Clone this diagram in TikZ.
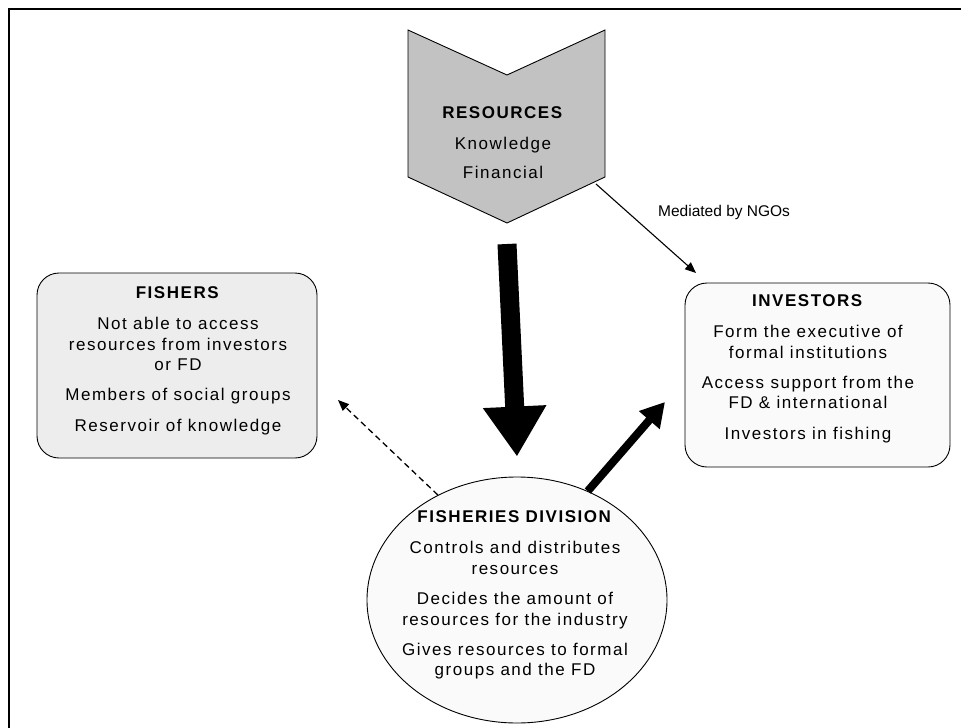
\documentclass[tikz,border=0pt]{standalone}
\usepackage{fontspec}
\setmainfont{Liberation Sans}[LetterSpace=9]
\newfontfamily\plainsans{Liberation Sans}
\usetikzlibrary{arrows.meta,shapes.geometric}
\begin{document}
\begin{tikzpicture}[x=1pt,y=-1pt,
  txt/.style={align=center,inner sep=0pt,font=\fontsize{17}{20.5}\selectfont},
  roundbox/.style={draw,line width=0.9pt,rounded corners=22pt,inner sep=0pt},
  thin arrow/.style={line width=1.1pt,-{Triangle[length=11pt,width=9pt]}},
]
\useasboundingbox (0,0) rectangle (961,728);

% frame
\draw[line width=1.6pt] (9,728) -- (9,9) -- (961,9);

% resources chevron
\coordinate (resTL) at (408,30);
\coordinate (resNotch) at (507,75);
\coordinate (resTR) at (605,30);
\coordinate (resBR) at (605,177);
\coordinate (resTip) at (507,223);
\coordinate (resBL) at (408,177);
\filldraw[fill=black!24,line width=0.9pt] (resTL) -- (resNotch) -- (resTR) -- (resBR) -- (resTip) -- (resBL) -- cycle;
\node[txt] (restxt) at (503,143) {\textbf{RESOURCES}\\[10pt]Knowledge\\[9pt]Financial};

% boxes
\node[roundbox,fill=black!7,minimum width=280pt,minimum height=185pt] (fish) at (177,365.5) {};
\node[txt] (fishtxt) at (178,361) {\textbf{FISHERS}\\[11pt]Not able to access\\resources from investors\\or FD\\[9.5pt]Members of social groups\\[10.5pt]Reservoir of knowledge};

\node[roundbox,fill=black!2,minimum width=265pt,minimum height=184pt] (inv) at (817.5,375) {};
\node[txt] (invtxt) at (808,369) {\textbf{INVESTORS}\\[11pt]Form the executive of\\formal institutions\\[9.5pt]Access support from the\\FD \& international\\[10.5pt]Investors in fishing};

\node[draw,ellipse,line width=0.9pt,fill=black!2,minimum width=300pt,minimum height=246pt,inner sep=0pt] (fd) at (517,600) {};
\node[txt] (fdtxt) at (515,595) {\textbf{FISHERIES DIVISION}\\[11pt]Controls and distributes\\resources\\[10pt]Decides the amount of\\resources for the industry\\[9.5pt]Gives resources to formal\\groups and the FD};

% connectors
\coordinate (medStart) at (596,184);
\coordinate (medEnd) at (696,273);
\draw[thin arrow] (medStart) -- (medEnd);
\node[txt,anchor=west,font=\plainsans\fontsize{15.5}{18}\selectfont] (medtxt) at (658,212) {Mediated by NGOs};

\draw[line width=19pt,-{Triangle[length=50pt,width=60pt]}] ([yshift=-21pt]resTip) -- ([yshift=20pt]fd.north);

\coordinate (fishEnd) at (338,400);
\draw[line width=1.3pt,dash pattern=on 6pt off 4pt,-{Triangle[length=11pt,width=9pt]}] (fd.127) -- (fishEnd);

\coordinate (invEnd) at (665,402);
\draw[line width=8pt,-{Triangle[length=24pt,width=26pt]}] (fd.57) -- (invEnd);
\end{tikzpicture}
\end{document}
